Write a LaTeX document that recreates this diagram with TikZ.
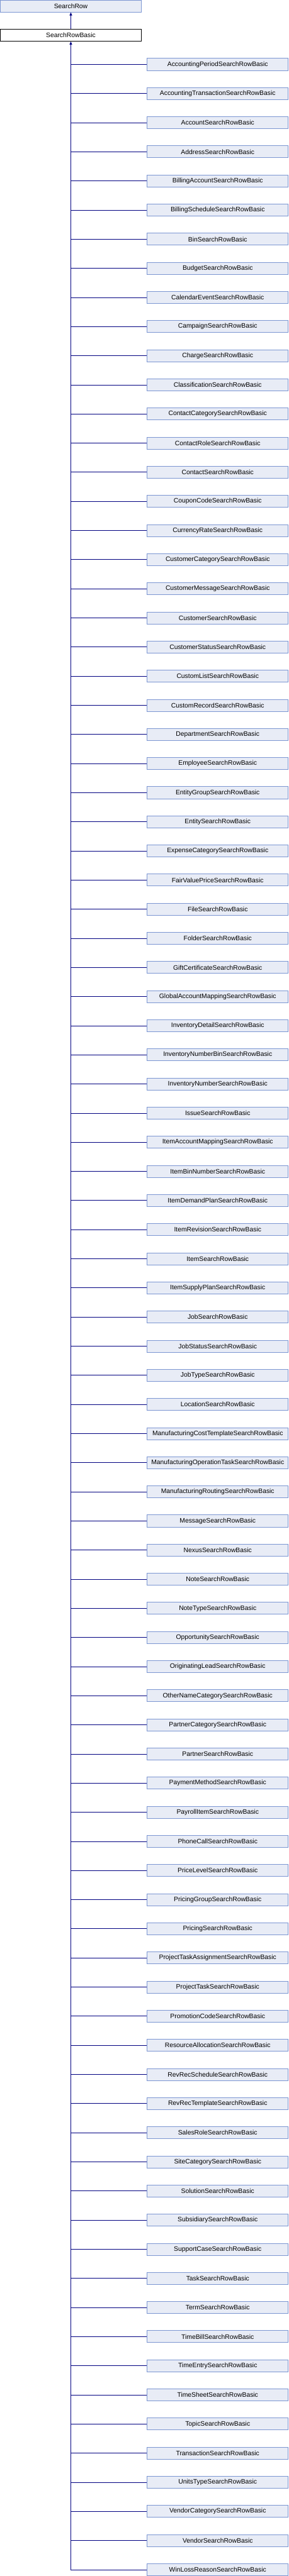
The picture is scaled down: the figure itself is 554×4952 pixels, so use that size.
\documentclass[tikz,border=0pt]{standalone}
\usepackage{fontspec}
\setmainfont{Liberation Sans}
\usetikzlibrary{arrows.meta}
\definecolor{boxfill}{RGB}{232,236,246}
\definecolor{boxline}{RGB}{124,150,210}
\definecolor{edgecol}{RGB}{0,0,128}
\begin{document}
\begin{tikzpicture}[x=1pt,y=-1pt,
  cls/.style={draw=boxline, fill=boxfill, line width=1pt, minimum width=271pt, minimum height=23pt, inner sep=0pt, font=\fontsize{12.5}{14}\selectfont},
  cur/.style={cls, draw=black, fill=white},
  edge/.style={draw=edgecol, line width=1pt},
  inh/.style={edge, -{Triangle[length=6pt,width=5pt]}}]
\useasboundingbox (0,0) rectangle (554,4952);
\node[cls] (top) at (136,11.8) {SearchRow};
\node[cur] (base) at (136,67.8) {SearchRowBasic};
\draw[inh] (base.north) -- (top.south);
\foreach \nm [count=\i] in {AccountingPeriodSearchRowBasic,AccountingTransactionSearchRowBasic,AccountSearchRowBasic,AddressSearchRowBasic,BillingAccountSearchRowBasic,BillingScheduleSearchRowBasic,BinSearchRowBasic,BudgetSearchRowBasic,CalendarEventSearchRowBasic,CampaignSearchRowBasic,ChargeSearchRowBasic,ClassificationSearchRowBasic,ContactCategorySearchRowBasic,ContactRoleSearchRowBasic,ContactSearchRowBasic,CouponCodeSearchRowBasic,CurrencyRateSearchRowBasic,CustomerCategorySearchRowBasic,CustomerMessageSearchRowBasic,CustomerSearchRowBasic,CustomerStatusSearchRowBasic,CustomListSearchRowBasic,CustomRecordSearchRowBasic,DepartmentSearchRowBasic,EmployeeSearchRowBasic,EntityGroupSearchRowBasic,EntitySearchRowBasic,ExpenseCategorySearchRowBasic,FairValuePriceSearchRowBasic,FileSearchRowBasic,FolderSearchRowBasic,GiftCertificateSearchRowBasic,GlobalAccountMappingSearchRowBasic,InventoryDetailSearchRowBasic,InventoryNumberBinSearchRowBasic,InventoryNumberSearchRowBasic,IssueSearchRowBasic,ItemAccountMappingSearchRowBasic,ItemBinNumberSearchRowBasic,ItemDemandPlanSearchRowBasic,ItemRevisionSearchRowBasic,ItemSearchRowBasic,ItemSupplyPlanSearchRowBasic,JobSearchRowBasic,JobStatusSearchRowBasic,JobTypeSearchRowBasic,LocationSearchRowBasic,ManufacturingCostTemplateSearchRowBasic,ManufacturingOperationTaskSearchRowBasic,ManufacturingRoutingSearchRowBasic,MessageSearchRowBasic,NexusSearchRowBasic,NoteSearchRowBasic,NoteTypeSearchRowBasic,OpportunitySearchRowBasic,OriginatingLeadSearchRowBasic,OtherNameCategorySearchRowBasic,PartnerCategorySearchRowBasic,PartnerSearchRowBasic,PaymentMethodSearchRowBasic,PayrollItemSearchRowBasic,PhoneCallSearchRowBasic,PriceLevelSearchRowBasic,PricingGroupSearchRowBasic,PricingSearchRowBasic,ProjectTaskAssignmentSearchRowBasic,ProjectTaskSearchRowBasic,PromotionCodeSearchRowBasic,ResourceAllocationSearchRowBasic,RevRecScheduleSearchRowBasic,RevRecTemplateSearchRowBasic,SalesRoleSearchRowBasic,SiteCategorySearchRowBasic,SolutionSearchRowBasic,SubsidiarySearchRowBasic,SupportCaseSearchRowBasic,TaskSearchRowBasic,TermSearchRowBasic,TimeBillSearchRowBasic,TimeEntrySearchRowBasic,TimeSheetSearchRowBasic,TopicSearchRowBasic,TransactionSearchRowBasic,UnitsTypeSearchRowBasic,VendorCategorySearchRowBasic,VendorSearchRowBasic,WinLossReasonSearchRowBasic} {
  \node[cls] (c\i) at (418,{123.8+56*(\i-1)}) {\nm};
  \draw[edge] (c\i.west) -- (c\i.west -| base.south);
}
\draw[inh] (c87.west -| base.south) -- (base.south);
\end{tikzpicture}
\end{document}
